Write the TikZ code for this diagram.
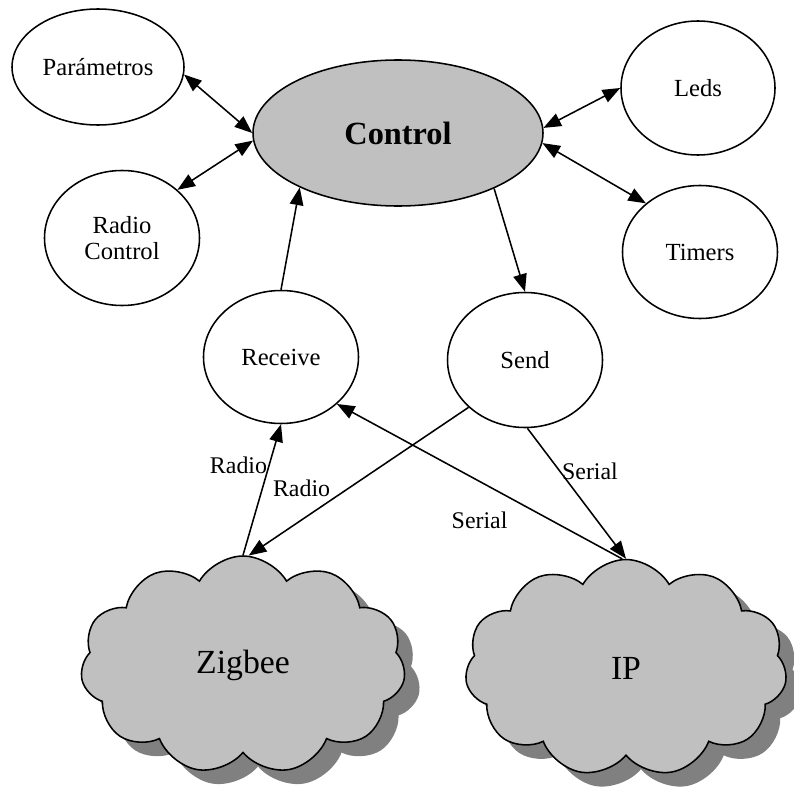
\documentclass[tikz,border=0pt]{standalone}
\usepackage{fontspec}
\setmainfont{Liberation Serif}
\usepackage{xcolor}
\usetikzlibrary{
    shapes.geometric,
    shapes.symbols,
    arrows.meta,
    positioning,
    shadows
}
\definecolor{fillgray}{HTML}{C0C0C0}
\definecolor{shadegray}{HTML}{808080}

\begin{document}
\begin{tikzpicture}[
        module/.style={draw, line width=1.1pt, ellipse, fill=white, inner sep=0pt, align=center, font=\fontsize{17.5}{19}\selectfont},
        net/.style={draw, line width=1.1pt, cloud, cloud puffs=11, cloud puff arc=120, fill=fillgray, inner sep=0pt,
            font=\fontsize{24}{26}\selectfont,
            drop shadow={shadow xshift=0.375cm, shadow yshift=-0.35cm, fill=shadegray, opacity=1}},
        arrow/.style={-{Triangle[length=4.4mm, width=3.4mm]}, line width=1.1pt},
        biarrow/.style={{Triangle[length=4.4mm, width=3.4mm]}-{Triangle[length=4.4mm, width=3.4mm]}, line width=1.1pt},
        lbl/.style={font=\fontsize{17}{19}\selectfont, inner sep=1pt}
    ]
        \useasboundingbox (0, 0) rectangle (19.85, -19.8);

        % Central control
        \node[module, fill=fillgray, minimum width=7.25cm, minimum height=3.65cm,
              font=\fontsize{23}{25}\selectfont\bfseries] (control) at (9.95, -3.325) {Control};

        % Modules around control
        \node[module, minimum width=4.3cm, minimum height=2.9cm] (param) at (2.45, -1.675) {Parámetros};
        \node[module, minimum width=3.875cm, minimum height=3.375cm] (radioctl) at (3.05, -5.95) {Radio\\Control};
        \node[module, minimum width=3.85cm, minimum height=3.35cm] (leds) at (17.45, -2.2) {Leds};
        \node[module, minimum width=3.875cm, minimum height=3.325cm] (timers) at (17.5, -6.3) {Timers};

        % Receive and send
        \node[module, minimum width=3.875cm, minimum height=3.325cm] (receive) at (7.025, -8.925) {Receive};
        \node[module, minimum width=3.875cm, minimum height=3.375cm] (send) at (13.125, -9.0) {Send};

        % Networks
        \node[net, minimum width=8.125cm, minimum height=5.45cm] (zigbee) at (6.075, -16.625) {Zigbee};
        \node[net, minimum width=8.05cm, minimum height=5.425cm] (ip) at (15.65, -16.7) {IP};

        % Arrows
        \draw[biarrow] (param.-5) -- (control.180);
        \draw[biarrow] (radioctl.41) -- (control.183);
        \draw[biarrow] (leds.180) -- (control.2);
        \draw[biarrow] (timers.138) -- (control.-4);

        \draw[arrow] (receive.90) -- (control.209);
        \draw[arrow] (control.-30) -- (send.90);

        \draw[arrow] (zigbee.90) -- (receive.270) node[lbl, pos=0.69, left] {Radio};
        \draw[arrow] (send.220) -- (zigbee.87) node[lbl, pos=0.62, anchor=south east] {Radio};
        \draw[arrow] (ip.92) -- (receive.-40) node[lbl, midway, below=0.7cm] {Serial};
        \draw[arrow] (send.-88) -- (ip.90) node[lbl, pos=0.33, right] {Serial};
    \end{tikzpicture}
\end{document}
